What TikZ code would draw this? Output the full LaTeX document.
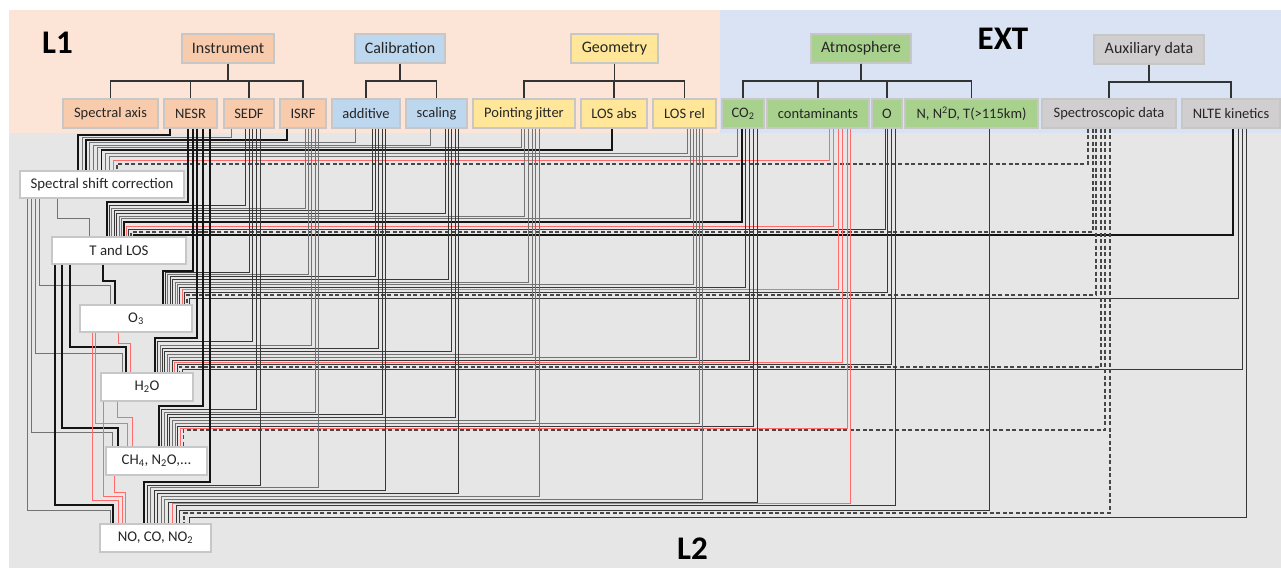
\documentclass[tikz,border=0pt]{standalone}
\usepackage{fontspec}
\setmainfont{Carlito}
\definecolor{peachbg}{HTML}{FCE4D6}
\definecolor{bluebg}{HTML}{DAE3F3}
\definecolor{graybg}{HTML}{E6E6E6}
\definecolor{instc}{HTML}{F8CBAD}
\definecolor{calibc}{HTML}{BDD7EE}
\definecolor{geomc}{HTML}{FFE699}
\definecolor{atmoc}{HTML}{A9D18E}
\definecolor{auxc}{HTML}{D0CECE}
\definecolor{redln}{HTML}{FF6B6B}
\begin{document}
\begin{tikzpicture}[x=1pt,y=-1pt,
  box/.style={draw=black!22, line width=1.3pt, inner sep=0pt, minimum height=29pt, font=\fontsize{14.5}{17}\selectfont, text=black!85},
  hbox/.style={box, font=\fontsize{16}{19}\selectfont},
  lbox/.style={box, fill=white, minimum height=27pt, font=\fontsize{14.8}{17}\selectfont},
  lbl/.style={inner sep=0pt, font=\fontsize{33}{38}\selectfont\bfseries},
  treeln/.style={draw=black!80, line width=1.3pt},
  lkA/.style={draw=black!55, line width=0.8pt},
  lkB/.style={draw=black!78, line width=1.0pt},
  lkC/.style={draw=black!92, line width=1.7pt},
  lkR/.style={draw=redln, line width=0.9pt},
  lkD/.style={draw=black!72, line width=1.2pt, dash pattern=on 4pt off 2.5pt},
]
\useasboundingbox (0,0) rectangle (1281,568);
\fill[white] (0,0) rectangle (1281,568);
\fill[peachbg] (9,10) rectangle (720,133);
\fill[bluebg] (720,10) rectangle (1281,133);
\fill[graybg] (9,133) rectangle (1281,568);

% labels
\node[lbl] (lone) at (57.5,42.5) {L1};
\node[lbl] (lext) at (1003,38.5) {EXT};
\node[lbl] (ltwo) at (692.5,549) {L2};

% top nodes
\node[hbox, fill=instc, minimum width=92pt] (inst) at (228,48.5) {Instrument};
\node[hbox, fill=calibc, minimum width=90pt] (calib) at (400,48.5) {Calibration};
\node[hbox, fill=geomc, minimum width=87pt] (geom) at (614.5,48.5) {Geometry};
\node[hbox, fill=atmoc, minimum width=100pt] (atmo) at (861,48.5) {Atmosphere};
\node[hbox, fill=auxc, minimum width=110pt] (aux) at (1149,49.5) {Auxiliary data};

% leaves
\node[box, fill=instc, minimum width=95pt] (specax) at (110.5,113.5) {Spectral axis};
\node[box, fill=instc, minimum width=53pt] (nesr) at (190.5,113.5) {NESR};
\node[box, fill=instc, minimum width=50pt] (sedf) at (249,113.5) {SEDF};
\node[box, fill=instc, minimum width=46pt] (isrf) at (303,113.5) {ISRF};
\node[box, fill=calibc, minimum width=68pt] (add) at (366,113.5) {additive};
\node[box, fill=calibc, minimum width=61pt] (scal) at (436.5,113.5) {scaling};
\node[box, fill=geomc, minimum width=102pt] (pj) at (524,113.5) {Pointing jitter};
\node[box, fill=geomc, minimum width=66pt] (losabs) at (614,113.5) {LOS abs};
\node[box, fill=geomc, minimum width=63pt] (losrel) at (684.5,113.5) {LOS rel};
\node[box, fill=atmoc, minimum width=42pt] (co2) at (743,113.5) {CO\textsubscript{2}};
\node[box, fill=atmoc, minimum width=102pt] (cont) at (818,113.5) {contaminants};
\node[box, fill=atmoc, minimum width=30pt] (o) at (887,113.5) {O};
\node[box, fill=atmoc, minimum width=133pt] (n) at (971.5,113.5) {N, N\textsuperscript{2}D, T(>115km)};
\node[box, fill=auxc, minimum width=134pt] (spec) at (1109,113.5) {Spectroscopic data};
\node[box, fill=auxc, minimum width=98pt] (nlte) at (1231,113.5) {NLTE kinetics};

% L2 nodes
\node[lbox, minimum width=164pt] (ssc) at (102,184.5) {Spectral shift correction};
\node[lbox, minimum width=134pt] (tlos) at (119,250.5) {T and LOS};
\node[lbox, minimum width=112pt] (othree) at (136,318.5) {O\textsubscript{3}};
\node[lbox, minimum width=92pt, minimum height=28pt] (htwoo) at (147,387) {H\textsubscript{2}O};
\node[lbox, minimum width=101pt, minimum height=28pt] (chfour) at (156.5,461) {CH\textsubscript{4}, N\textsubscript{2}O,...};
\node[lbox, minimum width=111pt, minimum height=28pt] (noco) at (155.5,538) {NO, CO, NO\textsubscript{2}};

% trees
\foreach \c in {specax,nesr,sedf,isrf} \draw[treeln] (inst.south) |- (\c.north |- 0,81) -- (\c.north);
\foreach \c in {add,scal} \draw[treeln] (calib.south) |- (\c.north |- 0,81) -- (\c.north);
\draw[treeln, line width=2pt] (calib.south) -- (calib.south |- 0,81);
\foreach \c in {pj,losabs,losrel} \draw[treeln] (geom.south) |- (\c.north |- 0,81) -- (\c.north);
\foreach \c in {co2,cont,o,n} \draw[treeln] (atmo.south) |- (\c.north |- 0,81) -- (\c.north);
\foreach \c in {spec,nlte} \draw[treeln] (aux.south) |- (\c.north |- 0,82) -- (\c.north);

% band 1 -> spectral shift correction
\foreach \lf/\xl/\yb/\xe/\st in {nesr/170/135/78/lkC, sedf/231/137.5/81.9/lkA, isrf/287/140/85.8/lkC, add/355/142.5/89.7/lkA, scal/430/145/93.6/lkA, pj/521/147.5/97.5/lkA, losabs/612/150/101.4/lkC, losrel/687/153/105.3/lkA, co2/737/156/109.2/lkA, cont/829/160/113.1/lkR, spec/1088/164/117/lkD}
  \draw[\st] (\xl,0 |- \lf.south) |- (\xe,\yb) -- (\xe,0 |- ssc.north);

% band 2 -> T and LOS
\foreach \lf/\xl/\yb/\xe/\st in {nesr/188/202/107/lkC, sedf/245/205/109.4/lkB, isrf/305/208/111.8/lkA, add/372/210.5/114.2/lkB, scal/445/213/116.6/lkB, pj/524/216/119/lkA, losrel/690/218.5/121.4/lkA, co2/742/222/123.8/lkC, cont/833/226/126.2/lkR, o/885/229/128.6/lkB, spec/1093/232/131/lkD, nlte/1233/235/133.4/lkC}
  \draw[\st] (\xl,0 |- \lf.south) |- (\xe,\yb) -- (\xe,0 |- tlos.north);

% band 3 -> O3
\foreach \lf/\xl/\yb/\xe/\st in {nesr/193/271/163/lkC, sedf/249/272.5/165.4/lkB, isrf/308/274/167.8/lkA, add/375/276.5/170.2/lkB, scal/448/279/172.6/lkB, pj/528/282/175/lkA, losrel/693/284.5/177.4/lkA, co2/745/287/179.8/lkB, cont/838/289.5/182.2/lkR, o/887/292/184.6/lkB, spec/1096/295/187/lkD, nlte/1238/298/189.4/lkB}
  \draw[\st] (\xl,0 |- \lf.south) |- (\xe,\yb) -- (\xe,0 |- othree.north);

% band 4 -> H2O
\foreach \lf/\xl/\yb/\xe/\st in {nesr/197/338/155/lkC, sedf/252/341/157.5/lkB, isrf/311/345/160/lkA, add/378/348/162.4/lkB, scal/451/351/164.8/lkB, pj/532/354/167.3/lkA, losrel/696/357/169.7/lkA, co2/749/360/172.2/lkB, cont/842/362/174.6/lkR, o/891/364/177/lkB, spec/1101/367/179.5/lkD, nlte/1242/369.5/182/lkB}
  \draw[\st] (\xl,0 |- \lf.south) |- (\xe,\yb) -- (\xe,0 |- htwoo.north);

% band 5 -> CH4
\foreach \lf/\xl/\yb/\xe/\st in {nesr/203/406/159/lkC, sedf/256/409/161.7/lkB, isrf/315/412/164.4/lkA, add/382/414.5/167.1/lkB, scal/455/417/169.8/lkB, pj/535/420/172.5/lkA, losrel/699/423/175.2/lkA, co2/753/426/177.9/lkB, cont/847/428/180.6/lkR, spec/1105/430/183.3/lkD}
  \draw[\st] (\xl,0 |- \lf.south) |- (\xe,\yb) -- (\xe,0 |- chfour.north);

% band 6 -> NO, CO, NO2
\foreach \lf/\xl/\yb/\xe/\st in {nesr/210/482/144/lkC, sedf/260/485/147/lkB, isrf/318/487.5/150.5/lkA, add/385/490/154/lkB, scal/458/493/157.5/lkB, pj/539/496/161/lkA, losrel/702/499/164.5/lkA, co2/757/502/168/lkB, cont/850/503.5/172/lkR, o/895/505.5/176/lkB, n/989/510/179.5/lkB, spec/1110/513/184/lkD, nlte/1246/517/189/lkB}
  \draw[\st] (\xl,0 |- \lf.south) |- (\xe,\yb) -- (\xe,0 |- noco.north);

% L2 -> L2
\foreach \src/\xl/\yb/\xe/\dst/\st in {ssc/57/218/89/tlos/lkA, ssc/39/285/110/othree/lkA, ssc/35/353/122/htwoo/lkA, ssc/31/432/112/chfour/lkA, ssc/27/510/110/noco/lkA, tlos/103/281/115/othree/lkC, tlos/70/347/126/htwoo/lkC, tlos/62/428/118/chfour/lkC, tlos/55/505/113/noco/lkC, othree/118/343/130/htwoo/lkR, othree/95/423/127/chfour/lkR, othree/92/500/118/noco/lkR, htwoo/117/417/132/chfour/lkR, htwoo/103/496/122/noco/lkR, chfour/114/492/125/noco/lkR}
  \draw[\st] (\xl,0 |- \src.south) |- (\xe,\yb) -- (\xe,0 |- \dst.north);
\end{tikzpicture}
\end{document}
